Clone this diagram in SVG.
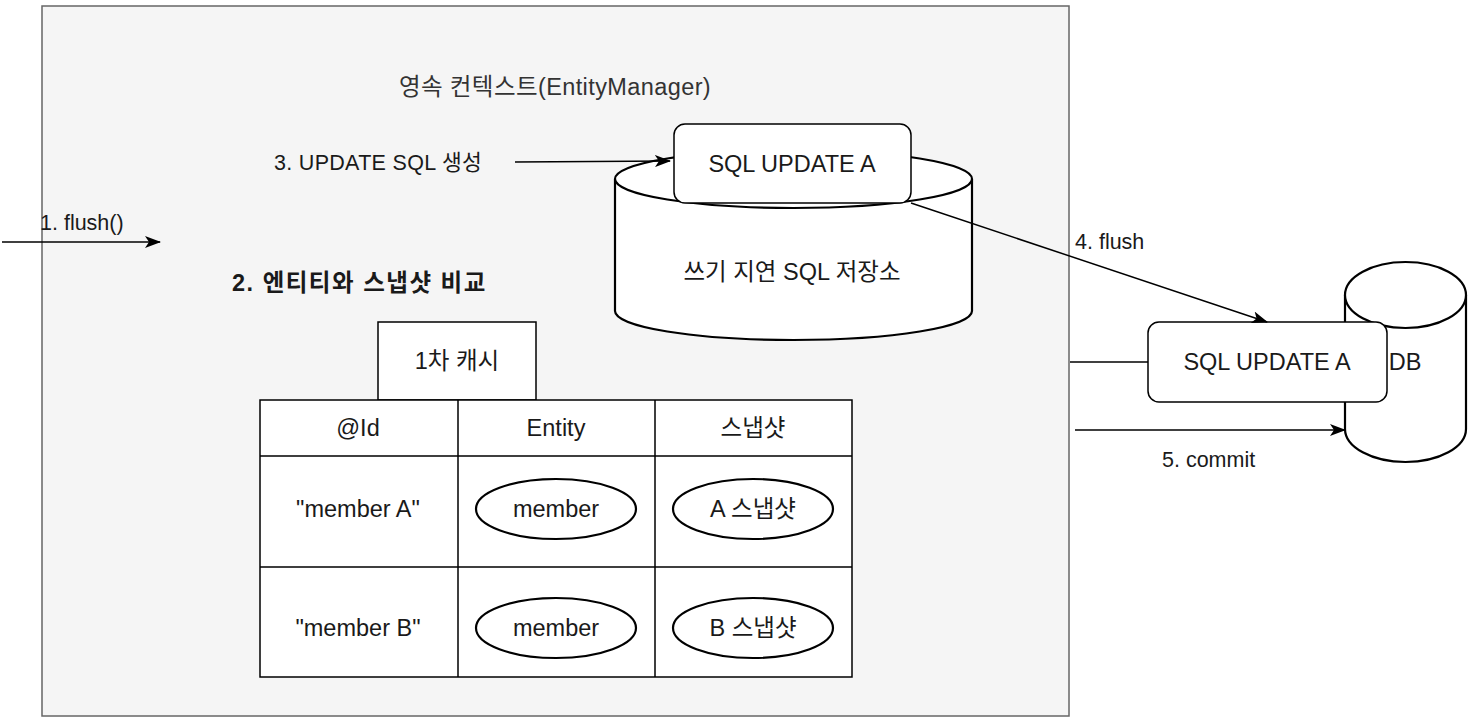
<svg xmlns="http://www.w3.org/2000/svg" width="1478" height="728" viewBox="0 0 1478 728">
<style>
text{font-family:"Liberation Sans","Noto Sans CJK KR",sans-serif;fill:#1a1a1a;dominant-baseline:central}
.v{font-size:23.5px;text-anchor:middle}
.l{font-size:21.5px;text-anchor:start}
.b{font-weight:bold;font-size:23.5px;letter-spacing:1.5px}
.sh{fill:#fff;stroke:#000;stroke-width:1.5}
.cyl{fill:#fff;stroke:#000;stroke-width:2.2}
.cn{fill:none;stroke:#000;stroke-width:1.5}
</style>
<defs>
<marker id="ah" viewBox="0 0 16 12" refX="15" refY="6" markerWidth="16" markerHeight="12" markerUnits="userSpaceOnUse" orient="auto">
<path d="M0,0 L16,6 L0,12 L4,6 Z" fill="#000"/>
</marker>
</defs>
<rect width="1478" height="728" fill="#fff"/>
<g id="container">
<rect x="42" y="6" width="1027" height="710" fill="#f5f5f5" stroke="#666" stroke-width="1.5"/>
<text class="v" x="555" y="87" style="fill:#333;letter-spacing:0.4px">영속 컨텍스트(EntityManager)</text>
</g>
<g id="label-update">
<text class="l" x="274" y="163" style="letter-spacing:0.3px">3. UPDATE SQL 생성</text>
</g>
<g id="label-compare">
<text class="l b" x="232" y="283">2. 엔티티와 스냅샷 비교</text>
</g>
<g id="sql-store">
<path class="cyl" d="M615,179 A178.5,29 0 0 1 972,179 L972,311 A178.5,29 0 0 1 615,311 Z"/>
<path class="cyl" fill="none" d="M615,179 A178.5,29 0 0 0 972,179"/>
<text class="v" x="792" y="272">쓰기 지연 SQL 저장소</text>
</g>
<g id="sql-a1">
<rect class="sh" x="674" y="124" width="237" height="79" rx="11"/>
<text class="v" x="792" y="164">SQL UPDATE A</text>
</g>
<g id="db">
<path class="cyl" d="M1345,295 A60.5,33 0 0 1 1466,295 L1466,429 A60.5,33 0 0 1 1345,429 Z"/>
<path class="cyl" fill="none" d="M1345,295 A60.5,33 0 0 0 1466,295"/>
<text class="v" x="1405" y="362">DB</text>
</g>
<g id="sql-a2">
<rect class="sh" x="1148" y="322" width="239" height="80" rx="11"/>
<text class="v" x="1267" y="362">SQL UPDATE A</text>
</g>
<g id="cache-title">
<rect class="sh" x="378" y="322" width="158" height="78"/>
<text class="v" x="457" y="361">1차 캐시</text>
</g>
<g id="cache-table">
<rect class="sh" x="260" y="400" width="592" height="277"/>
<path class="cn" d="M458,400 V677 M655,400 V677 M260,456 H852 M260,567 H852"/>
<text class="v" x="358" y="428">@Id</text>
<text class="v" x="556" y="428">Entity</text>
<text class="v" x="753" y="428">스냅샷</text>
<text class="v" x="358" y="509">"member A"</text>
<text class="v" x="358" y="628">"member B"</text>
</g>
<g id="entity-a">
<ellipse class="cyl" cx="556" cy="509" rx="80" ry="30"/>
<text class="v" x="556" y="509">member</text>
</g>
<g id="snap-a">
<ellipse class="cyl" cx="753" cy="509" rx="80" ry="30"/>
<text class="v" x="753" y="509">A 스냅샷</text>
</g>
<g id="entity-b">
<ellipse class="cyl" cx="556" cy="628" rx="80" ry="30"/>
<text class="v" x="556" y="628">member</text>
</g>
<g id="snap-b">
<ellipse class="cyl" cx="753" cy="628" rx="80" ry="30"/>
<text class="v" x="753" y="628">B 스냅샷</text>
</g>
<g id="connectors">
<line class="cn" x1="2" y1="242" x2="160" y2="242" marker-end="url(#ah)"/>
<text class="l" x="40" y="223">1. flush()</text>
<line class="cn" x1="515" y1="162" x2="670" y2="161" stroke="#555" marker-end="url(#ah)"/>
<line class="cn" x1="911" y1="203" x2="1267" y2="322" marker-end="url(#ah)"/>
<text class="l" x="1075" y="242">4. flush</text>
<line class="cn" x1="1070" y1="362" x2="1148" y2="362"/>
<line class="cn" x1="1075" y1="430" x2="1345" y2="430" marker-end="url(#ah)"/>
<text class="l" x="1162" y="460">5. commit</text>
</g>
</svg>
